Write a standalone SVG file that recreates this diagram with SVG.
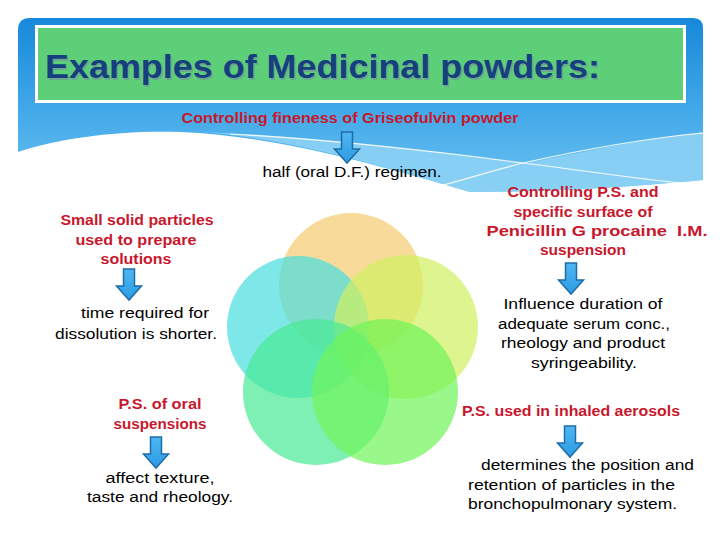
<svg xmlns="http://www.w3.org/2000/svg" xmlns:xlink="http://www.w3.org/1999/xlink" width="720" height="540" viewBox="0 0 720 540">
<defs>
<linearGradient id="bg" x1="0" y1="0" x2="0" y2="1">
<stop offset="0" stop-color="#1788DA"/>
<stop offset="0.5" stop-color="#3FA7E8"/>
<stop offset="1" stop-color="#6CC2F1"/>
</linearGradient>
<linearGradient id="arrowFill" x1="0" y1="0" x2="0" y2="1">
<stop offset="0" stop-color="#4FB6F2"/>
<stop offset="1" stop-color="#2C9BE3"/>
</linearGradient>
<path id="arrow" d="M-5.5,0 H5.5 V17 H12.5 L0,31 L-12.5,17 H-5.5 Z"/>
<style>
.red{font-family:"Liberation Sans","Noto Sans",Arial,sans-serif;font-weight:bold;font-size:14.5px;fill:#C8172C;text-anchor:middle}
.blk{font-family:"Liberation Sans","Noto Sans",Arial,sans-serif;font-size:15.5px;fill:#000;text-anchor:middle}
.blkl{font-family:"Liberation Sans","Noto Sans",Arial,sans-serif;font-size:15.5px;fill:#000}
.arr{fill:url(#arrowFill);stroke:#1F6DA6;stroke-width:1.5;stroke-linejoin:miter}
.circ{opacity:0.7}
</style>
</defs>
<rect width="720" height="540" fill="#FFFFFF"/>
<!-- header background -->
<g id="background">
<path d="M18,30 Q18,18 30,18 H693 Q703,18 703,28 V180 C 640,186 560,192 470,192 C 380,166 280,136 180,132 C 120,130 60,138 18,152 Z" fill="url(#bg)"/>
<path d="M200,132 C 320,136 430,152 523,164 C 590,150 650,138 703,132 V180 C 640,186 560,192 470,192 C 380,166 290,138 200,132 Z" fill="#8FD2F6" opacity="0.85"/>
<path d="M 230,134 C 340,140 440,152 523,163 C 580,170 630,178 690,184" fill="none" stroke="#FFFFFF" stroke-width="1.2" opacity="0.9"/>
<path d="M 440,186 C 470,178 495,170 523,163 C 590,148 650,138 703,133" fill="none" stroke="#FFFFFF" stroke-width="1.2" opacity="0.9"/>
</g>
<!-- title -->
<g id="title">
<rect x="36.5" y="26.5" width="648" height="75" fill="#5ECF79" stroke="#FFFFFF" stroke-width="3"/>
<text x="46.5" y="79.5" font-family="Liberation Sans, Noto Sans, Arial, sans-serif" font-weight="bold" font-size="34" fill="#6BA88F" textLength="555" lengthAdjust="spacingAndGlyphs">Examples of Medicinal powders:</text>
<text x="45" y="78" font-family="Liberation Sans, Noto Sans, Arial, sans-serif" font-weight="bold" font-size="34" fill="#163F7D" textLength="555" lengthAdjust="spacingAndGlyphs">Examples of Medicinal powders:</text>
</g>
<!-- circles -->
<g id="circles">
<circle class="circ" cx="351" cy="285" r="72" fill="#F5CC70"/>
<circle class="circ" cx="298" cy="327" r="71" fill="#47DEDE"/>
<circle class="circ" cx="406" cy="327" r="72" fill="#D0F160"/>
<circle class="circ" cx="316" cy="392" r="73" fill="#49EA94"/>
<circle class="circ" cx="385" cy="392" r="73" fill="#6FF458"/>
</g>
<!-- nodes -->
<g id="n-griseo">
<text class="red" x="350" y="123" textLength="337" lengthAdjust="spacingAndGlyphs">Controlling fineness of Griseofulvin powder</text>
</g>
<g id="n-griseo-result">
<text class="blk" x="352" y="177" textLength="179" lengthAdjust="spacingAndGlyphs">half (oral D.F.) regimen.</text>
</g>
<g id="n-small">
<text class="red" x="137" y="225" textLength="153" lengthAdjust="spacingAndGlyphs">Small solid particles</text>
<text class="red" x="136" y="245" textLength="121" lengthAdjust="spacingAndGlyphs">used to prepare</text>
<text class="red" x="136" y="264" textLength="71" lengthAdjust="spacingAndGlyphs">solutions</text>
</g>
<g id="n-small-result">
<text class="blk" x="145" y="318" textLength="128" lengthAdjust="spacingAndGlyphs">time required for</text>
<text class="blk" x="136" y="339" textLength="162" lengthAdjust="spacingAndGlyphs">dissolution is shorter.</text>
</g>
<g id="n-oral">
<text class="red" x="160" y="409" textLength="83" lengthAdjust="spacingAndGlyphs">P.S. of oral</text>
<text class="red" x="160" y="429" textLength="93" lengthAdjust="spacingAndGlyphs">suspensions</text>
</g>
<g id="n-oral-result">
<text class="blk" x="160" y="483" textLength="109" lengthAdjust="spacingAndGlyphs">affect texture,</text>
<text class="blk" x="160" y="502" textLength="146" lengthAdjust="spacingAndGlyphs">taste and rheology.</text>
</g>
<g id="n-penicillin">
<text class="red" x="583" y="197" textLength="151" lengthAdjust="spacingAndGlyphs">Controlling P.S. and</text>
<text class="red" x="583" y="217" textLength="139" lengthAdjust="spacingAndGlyphs">specific surface of</text>
<text class="red" x="597" y="236" textLength="221" lengthAdjust="spacingAndGlyphs" xml:space="preserve">Penicillin G procaine  I.M.</text>
<text class="red" x="583" y="255" textLength="86" lengthAdjust="spacingAndGlyphs">suspension</text>
</g>
<g id="n-penicillin-result">
<text class="blk" x="583" y="309" textLength="159" lengthAdjust="spacingAndGlyphs">Influence duration of</text>
<text class="blk" x="584" y="329" textLength="172" lengthAdjust="spacingAndGlyphs">adequate serum conc.,</text>
<text class="blk" x="583" y="348" textLength="164" lengthAdjust="spacingAndGlyphs">rheology and product</text>
<text class="blk" x="584" y="368" textLength="106" lengthAdjust="spacingAndGlyphs">syringeability.</text>
</g>
<g id="n-aerosol">
<text class="red" x="571" y="416" textLength="218" lengthAdjust="spacingAndGlyphs">P.S. used in inhaled aerosols</text>
</g>
<g id="n-aerosol-result">
<text class="blkl" x="481" y="470" textLength="213" lengthAdjust="spacingAndGlyphs">determines the position and</text>
<text class="blkl" x="468" y="490" textLength="207" lengthAdjust="spacingAndGlyphs">retention of particles in the</text>
<text class="blkl" x="468" y="509" textLength="209" lengthAdjust="spacingAndGlyphs">bronchopulmonary system.</text>
</g>
<!-- connectors -->
<g id="connectors">
<use xlink:href="#arrow" href="#arrow" class="arr" transform="translate(347,132)"/>
<use xlink:href="#arrow" href="#arrow" class="arr" transform="translate(129,269)"/>
<use xlink:href="#arrow" href="#arrow" class="arr" transform="translate(156,437)"/>
<use xlink:href="#arrow" href="#arrow" class="arr" transform="translate(571,263)"/>
<use xlink:href="#arrow" href="#arrow" class="arr" transform="translate(570,426)"/>
</g>
</svg>
